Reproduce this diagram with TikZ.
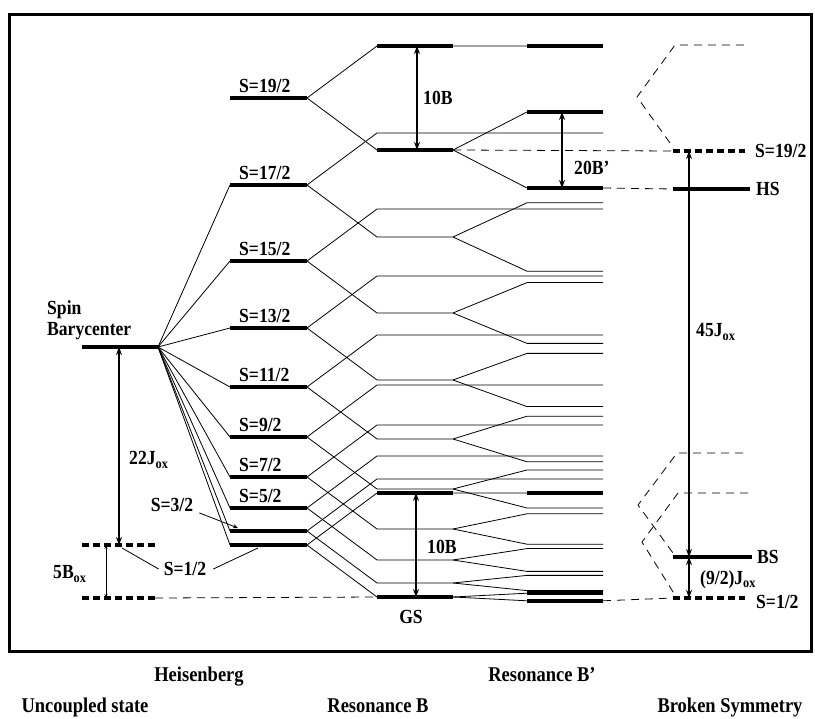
\documentclass[tikz,border=0pt]{standalone}
\usepackage{fontspec}
\setmainfont{Liberation Serif}
\newfontfamily\labfont{Liberation Serif}[FakeStretch=0.88]
\usepackage{tikz}
\usetikzlibrary{arrows.meta, positioning}

\begin{document}
\begin{tikzpicture}[x=1pt, y=-1pt,
      lvl/.style={line width=3.6pt},
      ln/.style={line width=0.8pt},
      dlvl/.style={line width=3.6pt, dash pattern=on 7pt off 4pt},
      dln/.style={line width=0.8pt, dash pattern=on 8pt off 6pt},
      gap/.style={line width=1.8pt, {Stealth[length=8pt,width=6pt]}-{Stealth[length=8pt,width=6pt]}},
      lab/.style={font=\labfont\bfseries\fontsize{20}{22}\selectfont, inner sep=1pt},
      axlab/.style={font=\labfont\bfseries\fontsize{21}{23}\selectfont, inner sep=0pt, anchor=base}]
    \useasboundingbox (0,0) rectangle (815,719);
    \draw[line width=3pt] (9,15) rectangle (811,651);

    % Heisenberg levels and their splittings (k = S+1/2)
    \foreach \k/\y in {10/98, 9/185, 8/261, 7/328, 6/387, 5/437, 4/477, 3/508, 2/531, 1/545} {
      \coordinate (hl\k) at (230,\y);          \coordinate (hr\k) at (307,\y);
      \coordinate (ul\k) at (377,\y-52);       \coordinate (ur\k) at (453,\y-52);
      \coordinate (upl\k) at (527,\y-52);      \coordinate (upr\k) at (603,\y-52);
      \coordinate (dl\k) at (377,\y+52);       \coordinate (dr\k) at (453,\y+52);
      \coordinate (al\k) at (527,\y+52-3.8*\k); \coordinate (ar\k) at (603,\y+52-3.8*\k);
      \coordinate (bl\k) at (527,\y+52+3.8*\k); \coordinate (br\k) at (603,\y+52+3.8*\k);
    }
    \foreach \k in {1,...,10} {
      \draw[lvl] (hl\k) -- (hr\k);
      \draw[ln] (hr\k) -- (ul\k) -- (upr\k);
      \draw[ln] (hr\k) -- (dl\k) -- (dr\k) -- (al\k) -- (ar\k);
      \draw[ln] (dr\k) -- (bl\k) -- (br\k);
    }
    \foreach \k in {1,10} {
      \draw[lvl] (ul\k) -- (ur\k); \draw[lvl] (upl\k) -- (upr\k);
      \draw[lvl] (dl\k) -- (dr\k);
      \draw[lvl] (al\k) -- (ar\k); \draw[lvl] (bl\k) -- (br\k);
    }

    % uncoupled state
    \coordinate (bc0) at (82,347);  \coordinate (bc1) at (158,347);
    \coordinate (uh0) at (82,545);  \coordinate (uh1) at (155,545);
    \coordinate (ug0) at (82,598);  \coordinate (ug1) at (155,598);
    \draw[lvl] (bc0) -- (bc1);
    \foreach \k in {1,...,9} \draw[ln] (bc1) -- (hl\k);
    \draw[dlvl] (uh0) -- (uh1);
    \draw[dlvl] (ug0) -- (ug1);
    \draw[dln] (ug1) -- (dl1);

    % broken symmetry
    \coordinate (hi0) at (673,151); \coordinate (hi1) at (745,151);
    \coordinate (hs0) at (673,189); \coordinate (hs1) at (750,189);
    \coordinate (bs0) at (673,557); \coordinate (bs1) at (752,557);
    \coordinate (lo0) at (673,598); \coordinate (lo1) at (745,598);
    \draw[dln] (dr10) -- (hi0);  \draw[dlvl] (hi0) -- (hi1);
    \draw[dln] (br10) -- (hs0);  \draw[lvl] (hs0) -- (hs1);
    \draw[dln] (br1) -- (lo0);   \draw[dlvl] (lo0) -- (lo1);
    \draw[lvl] (bs0) -- (bs1);
    \coordinate (t1) at (670,143); \coordinate (t2) at (637,97);
    \coordinate (t3) at (675,45);  \coordinate (t4) at (748,45);
    \draw[dln] (t1) -- (t2) -- (t3) -- (t4);
    \coordinate (m1) at (743,453); \coordinate (m2) at (677,453);
    \coordinate (m3) at (638,505); \coordinate (m4) at (673,553);
    \draw[dln] (m1) -- (m2) -- (m3) -- (m4);
    \coordinate (n1) at (748,493); \coordinate (n2) at (678,493);
    \coordinate (n3) at (642,542); \coordinate (n4) at (675,595);
    \draw[dln] (n1) -- (n2) -- (n3) -- (n4);

    % energy gaps
    \draw[gap] ([xshift=40]ul10) -- ([xshift=40]dl10);
    \draw[gap] ([xshift=35]al10) -- ([xshift=35]bl10);
    \draw[gap] ([xshift=39]ul1) -- ([xshift=39]dl1);
    \draw[gap] ([xshift=37]bc0) -- ([xshift=37]uh0);
    \draw[ln, {Stealth[length=4pt,width=3pt]}-{Stealth[length=4pt,width=3pt]}] ([xshift=24]uh0) -- ([xshift=24]ug0);
    \draw[gap] ([xshift=16]hi0) -- ([xshift=16]bs0);
    \draw[gap] ([xshift=16]bs0) -- ([xshift=16]lo0);

    % labels
    \foreach \k/\s in {10/19, 9/17, 8/15, 7/13, 6/11, 5/9, 4/7, 3/5}
      \node[lab, anchor=south west] (sl\k) at ([xshift=8,yshift=4]hl\k) {S=\s/2};
    \node[lab, anchor=west] (spin) at (46,310) {Spin};
    \node[lab, anchor=west] (bary) at (46,331) {Barycenter};
    \node[lab] (s3lab) at (172,505) {S=3/2};
    \node[lab] (s1lab) at (185,569) {S=1/2};
    \draw[ln, -{Stealth[length=5pt,width=4pt]}] ([xshift=5]s3lab.south east) -- ([xshift=8,yshift=3]hl2);
    \draw[ln] ([xshift=-4]s1lab.west) -- ([xshift=40,yshift=-3]uh0);
    \draw[ln] ([xshift=6]s1lab.east) -- ([xshift=28,yshift=-3]hl1);
    \node[lab, anchor=west] (j22) at (128,460) {22J\textsubscript{ox}};
    \node[lab, anchor=west] (b5) at (52,574) {5B\textsubscript{ox}};
    \node[lab, anchor=west] (b10a) at (422,98) {10B};
    \node[lab, anchor=west] (b20) at (573,168) {20B’};
    \node[lab, anchor=west] (b10b) at (426,547) {10B};
    \node[lab] (gs) at (411,617) {GS};
    \node[lab, anchor=west] (shi) at (754,151) {S=19/2};
    \node[lab, anchor=west] (shs) at (755,189) {HS};
    \node[lab, anchor=west] (sbs) at (756,557) {BS};
    \node[lab, anchor=west] (slo) at (755,602) {S=1/2};
    \node[lab, anchor=west] (j45) at (695,332) {45J\textsubscript{ox}};
    \node[lab, anchor=west] (j92) at (699,580) {(9/2)J\textsubscript{ox}};

    \node[axlab] (heis) at (199,681) {Heisenberg};
    \node[axlab] (resp) at (542,681) {Resonance B’};
    \node[axlab] (unc) at (85,712) {Uncoupled state};
    \node[axlab] (resb) at (378,712) {Resonance B};
    \node[axlab] (brk) at (730,712) {Broken Symmetry};
  \end{tikzpicture}
\end{document}
